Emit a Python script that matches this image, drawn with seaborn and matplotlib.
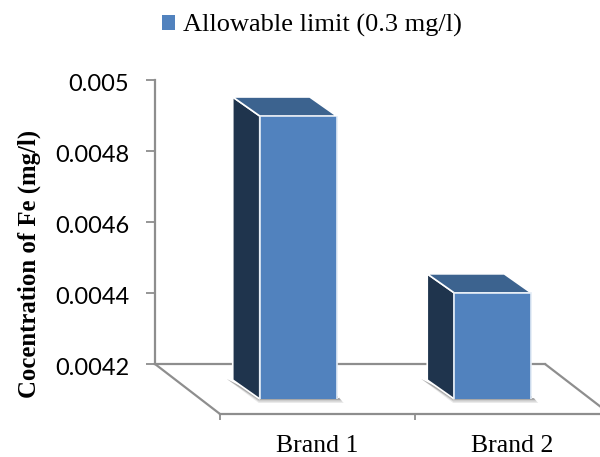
import matplotlib
matplotlib.use("Agg")
import matplotlib.pyplot as plt
from matplotlib.patches import Polygon, Patch
from matplotlib.transforms import IdentityTransform, ScaledTranslation
from matplotlib.ticker import FixedLocator, NullFormatter
import seaborn as sns
import pandas as pd

brands = ["Brand 1", "Brand 2"]
concentration = [0.005, 0.0045]
y_ticks = [0.0042, 0.0044, 0.0046, 0.0048, 0.005]
y_labels = ["0.0042", "0.0044", "0.0046", "0.0048", "0.005"]
legend_label = "Allowable limit (0.3 mg/l)"
y_title = "Cocentration of Fe (mg/l)"

FRONT, TOP, SIDE, GRID = "#5182BE", "#3C638F", "#1F344D", "#8E8E8E"
W, H = 600, 457
DX, DY = 27, 19

sns.set_theme(style="white")
plt.rcParams["font.family"] = ["Liberation Serif", "DejaVu Serif"]
fig = plt.figure(figsize=(W / 100, H / 100), dpi=100, facecolor="white")

def axes_px(x0, x1, ytop, ybot):
    return fig.add_axes([x0 / W, 1 - ybot / H, (x1 - x0) / W, (ybot - ytop) / H])

# back wall: value axis
wall = axes_px(155, 545, 80, 364)
wall.set_ylim(y_ticks[0], y_ticks[-1])
wall.set_xlim(0, 1)
wall.patch.set_alpha(0)
for s in ["top", "right"]:
    wall.spines[s].set_visible(False)
for s in ["left", "bottom"]:
    wall.spines[s].set_color(GRID)
    wall.spines[s].set_linewidth(1.6)
wall.set_xticks([])
wall.set_yticks(y_ticks)
wall.set_yticklabels(y_labels, family="Lato", fontsize=17, color="black")
wall.tick_params(axis="y", left=True, length=6.5, width=1.3, color=GRID, pad=12)
shift_down = ScaledTranslation(0, -3 / 100, fig.dpi_scale_trans)
for lab in wall.get_yticklabels():
    lab.set_transform(lab.get_transform() + shift_down)
wall.set_ylabel(y_title, family="Liberation Serif", fontweight="bold", fontsize=17.8,
                labelpad=0, color="black")
wall.yaxis.set_label_coords((41 - 155) / 390, (364 - 264) / 284)

# floor front edge: category axis
floor = axes_px(220, 610, 300, 414)
floor.set_xlim(-0.5, 1.5)
floor.patch.set_alpha(0)
for s in ["top", "right", "left"]:
    floor.spines[s].set_visible(False)
floor.spines["bottom"].set_color(GRID)
floor.spines["bottom"].set_linewidth(1.6)
floor.set_yticks([])
floor.set_xticks([0, 1])
floor.set_xticklabels(brands, fontsize=18.5, color="black")
floor.xaxis.set_minor_locator(FixedLocator([-0.5, 0.5, 1.5]))
floor.xaxis.set_minor_formatter(NullFormatter())
floor.tick_params(axis="x", which="major", bottom=False, pad=9)
floor.tick_params(axis="x", which="minor", bottom=True, length=4.5, width=1.3, color=GRID)

# floor side edges
for (xa, ya), (xb, yb) in [((155, 364), (220, 414)), ((545, 364), (610, 414))]:
    fig.add_artist(plt.Line2D([xa / W, xb / W], [1 - ya / H, 1 - yb / H],
                              color=GRID, lw=1.6, zorder=1.5))

# bars: front plane, shifted forward from the wall
front = axes_px(201, 590, 116, 399)
front.patch.set_alpha(0)
df = pd.DataFrame({"brand": brands, "value": concentration})
sns.barplot(data=df, x="brand", y="value", ax=front, color=FRONT, saturation=1,
            width=0.396, edgecolor="#E4ECF6", linewidth=1.2, zorder=5)
front.set_xlim(-0.5, 1.5)
front.set_ylim(y_ticks[0], y_ticks[-1])
front.axis("off")

fig.canvas.draw()
identity = IdentityTransform()
for bar in front.patches:
    (x0, y0), (x1, y1) = front.transData.transform(
        [(bar.get_x(), y_ticks[0]), (bar.get_x() + bar.get_width(), bar.get_height())])
    # soft floor shadow
    for k, a in zip((5, 3.5, 2), (0.12, 0.2, 0.3)):
        front.add_patch(Polygon([(x0 - DX - 6, y0 + DY + 1), (x0 - 1, y0 - k + 1), (x1 + k + 2, y0 - k + 1),
                                 (x1 + 1, y0 + 3), (x0, y0 + 3)],
                                closed=True, transform=identity, fc="#555555", ec="none",
                                alpha=a, clip_on=False, zorder=2))
    front.add_patch(Polygon([(x0 - DX, y1 + DY), (x0, y1), (x0, y0), (x0 - DX, y0 + DY)],
                            closed=True, transform=identity, fc=SIDE, ec="white", lw=1.2,
                            clip_on=False, zorder=3))
    front.add_patch(Polygon([(x0 - DX, y1 + DY), (x1 - DX, y1 + DY), (x1, y1), (x0, y1)],
                            closed=True, transform=identity, fc=TOP, ec="white", lw=1.2,
                            clip_on=False, zorder=3))
    # margin that breaks the back-wall line beside the bar
    front.add_patch(Polygon([(x1 + 1, y0 + DY + 4), (x1 + 2.5, y0 + DY + 4), (x1 + 2.5, y0 + 1), (x1 + 1, y0 + 1)],
                            closed=True, transform=identity, fc="white", ec="none",
                            clip_on=False, zorder=2.5))

fig.legend(handles=[Patch(facecolor=FRONT, edgecolor="none", label=legend_label)],
           loc="center", bbox_to_anchor=(312 / W, 1 - 25.5 / H), frameon=False,
           fontsize=19, handlelength=0.5, handleheight=0.5, handletextpad=0.28,
           labelcolor="black")

fig.savefig("out.png", dpi=100, facecolor="white")
